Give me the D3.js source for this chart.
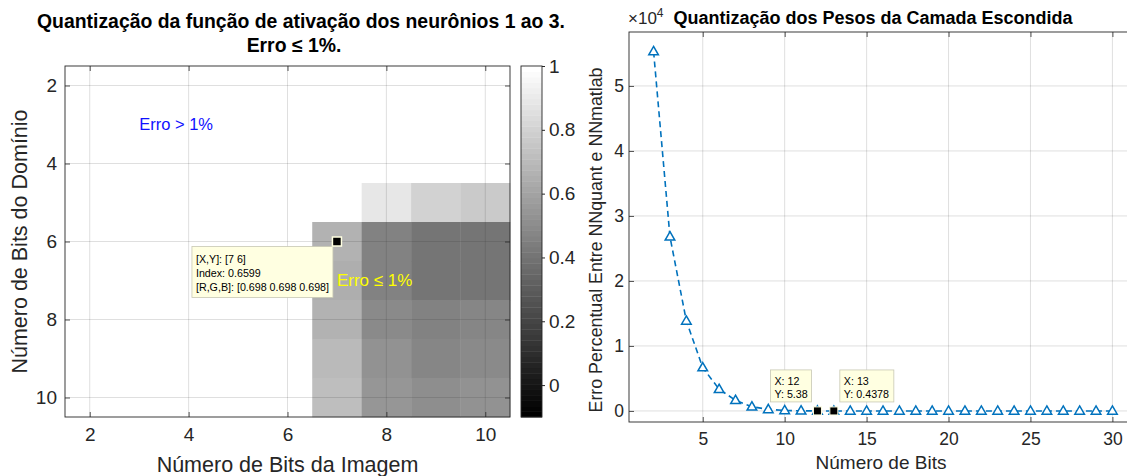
<!DOCTYPE html>
<html>
<head>
<meta charset="utf-8">
<script src="https://cdn.jsdelivr.net/npm/d3@7"></script>
<style>
  html, body { margin: 0; padding: 0; background: #fff; }
  svg { display: block; font-family: "Liberation Sans", Arial, sans-serif; }
</style>
</head>
<body>
<svg id="fig" width="1127" height="476"></svg>
<script>
// ---- Left panel: quantization map (image bits x domain bits) ----
const imageBits = [2, 3, 4, 5, 6, 7, 8, 9, 10];
const domainBits = [2, 3, 4, 5, 6, 7, 8, 9, 10];
// one row per domain bit count, one column per image bit count
const errorIndex = [
  [1, 1, 1, 1, 1, 1,      1,    1,    1   ],
  [1, 1, 1, 1, 1, 1,      1,    1,    1   ],
  [1, 1, 1, 1, 1, 1,      1,    1,    1   ],
  [1, 1, 1, 1, 1, 1,      0.88, 0.81, 0.77],
  [1, 1, 1, 1, 1, 0.6599, 0.46, 0.40, 0.41],
  [1, 1, 1, 1, 1, 0.64,   0.46, 0.40, 0.41],
  [1, 1, 1, 1, 1, 0.67,   0.50, 0.46, 0.47],
  [1, 1, 1, 1, 1, 0.70,   0.52, 0.48, 0.49],
  [1, 1, 1, 1, 1, 0.72,   0.55, 0.51, 0.52]
];
const heatTicks = [2, 4, 6, 8, 10];
const colorLimits = [-0.1, 1];
const colorbarTicks = [0, 0.2, 0.4, 0.6, 0.8, 1];
const heatTip = { x: 7, y: 6, index: 0.6599 };

// ---- Right panel: weight quantization error ----
const weightBits = [2, 3, 4, 5, 6, 7, 8, 9, 10, 11, 12, 13, 14, 15, 16, 17, 18, 19, 20,
                    21, 22, 23, 24, 25, 26, 27, 28, 29, 30];
const percentError = [55300, 26800, 13850, 6670, 3340, 1640, 650, 240, 80, 25, 5.38, 0.4378,
                      0.41, 0.39, 0.37, 0.36, 0.35, 0.34, 0.34, 0.33, 0.33, 0.32, 0.32,
                      0.32, 0.31, 0.31, 0.31, 0.31, 0.30];
const weightXTicks = [5, 10, 15, 20, 25, 30];
const weightYTicks = [0, 10000, 20000, 30000, 40000, 50000];
const weightTips = [12, 13];

const svg = d3.select("#fig");
const AX = "#262626";
const GRID = "#262626";
const FONT = "Liberation Sans, Arial, sans-serif";

// MATLAB-style gray colormap with 64 levels
function grayOf(v) {
  const t = (v - colorLimits[0]) / (colorLimits[1] - colorLimits[0]);
  const idx = Math.max(0, Math.min(63, Math.floor(t * 64)));
  const g = Math.round(idx / 63 * 255);
  return `rgb(${g},${g},${g})`;
}

// axes with inward ticks on all four sides
function boxAxes(g, xs, ys, box, xt, yt, tickLen, fmtX, fmtY, fs, xOff, yOff) {
  g.append("g").attr("transform", `translate(0,${box.bottom})`)
    .call(d3.axisBottom(xs).tickValues(xt).tickSize(-tickLen).tickPadding(xOff).tickFormat(fmtX))
    .call(a => a.select(".domain").remove());
  g.append("g").attr("transform", `translate(0,${box.top})`)
    .call(d3.axisTop(xs).tickValues(xt).tickSize(-tickLen).tickFormat(""))
    .call(a => a.select(".domain").remove());
  g.append("g").attr("transform", `translate(${box.left},0)`)
    .call(d3.axisLeft(ys).tickValues(yt).tickSize(-tickLen).tickPadding(yOff).tickFormat(fmtY))
    .call(a => a.select(".domain").remove());
  g.append("g").attr("transform", `translate(${box.right},0)`)
    .call(d3.axisRight(ys).tickValues(yt).tickSize(-tickLen).tickFormat(""))
    .call(a => a.select(".domain").remove());
  g.selectAll(".tick line").attr("stroke", AX).attr("stroke-width", 0.8);
  g.selectAll(".tick text").attr("fill", AX).attr("font-size", fs).attr("font-family", FONT);
  g.append("rect").attr("x", box.left).attr("y", box.top)
    .attr("width", box.right - box.left).attr("height", box.bottom - box.top)
    .attr("fill", "none").attr("stroke", AX).attr("stroke-width", 0.9);
}

// ================= Left panel =================
const L = { left: 65, right: 510, top: 66, bottom: 417 };
const hx = d3.scaleLinear().domain([1.5, 10.5]).range([L.left, L.right]);
const hy = d3.scaleLinear().domain([1.5, 10.5]).range([L.top, L.bottom]);
const hp = svg.append("g");

const cells = [];
domainBits.forEach((d, i) => imageBits.forEach((b, j) => cells.push({ x: b, y: d, v: errorIndex[i][j] })));
hp.selectAll("rect.cell").data(cells).join("rect")
  .attr("class", "cell")
  .attr("x", d => hx(d.x - 0.5))
  .attr("y", d => hy(d.y - 0.5))
  .attr("width", d => hx(d.x + 0.5) - hx(d.x - 0.5) + 0.3)
  .attr("height", d => hy(d.y + 0.5) - hy(d.y - 0.5) + 0.3)
  .attr("fill", d => grayOf(d.v));

// grid on top of image
hp.selectAll("line.gx").data(heatTicks).join("line")
  .attr("x1", d => hx(d)).attr("x2", d => hx(d))
  .attr("y1", L.top).attr("y2", L.bottom)
  .attr("stroke", GRID).attr("stroke-opacity", 0.15).attr("stroke-width", 1);
hp.selectAll("line.gy").data(heatTicks).join("line")
  .attr("y1", d => hy(d)).attr("y2", d => hy(d))
  .attr("x1", L.left).attr("x2", L.right)
  .attr("stroke", GRID).attr("stroke-opacity", 0.15).attr("stroke-width", 1);

boxAxes(hp, hx, hy, L, heatTicks, heatTicks, 5, d3.format("d"), d3.format("d"), 19, 11, 8);

// annotations
hp.append("text").attr("x", hx(3)).attr("y", hy(3)).attr("dy", "0.35em")
  .attr("fill", "#1010ff").attr("font-size", 16.5).text("Erro > 1%");
hp.append("text").attr("x", hx(7)).attr("y", hy(7)).attr("dy", "0.35em")
  .attr("fill", "#ffff00").attr("font-size", 17).text("Erro ≤ 1%");

// data tip on the image
{
  const px = hx(heatTip.x), py = hy(heatTip.y);
  const g = hp.append("g");
  g.append("rect").attr("x", px - 145).attr("y", py + 5).attr("width", 141).attr("height", 51)
    .attr("fill", "#ffffe1").attr("stroke", "#c8c8b4").attr("stroke-width", 0.8);
  const lines = [`[X,Y]: [${heatTip.x} ${heatTip.y}]`, `Index: ${heatTip.index}`,
                 `[R,G,B]: [0.698 0.698 0.698]`];
  g.selectAll("text").data(lines).join("text")
    .attr("x", px - 141).attr("y", (d, i) => py + 21 + i * 14)
    .attr("font-size", 10.7).attr("fill", "#000").text(d => d);
  g.append("rect").attr("x", px - 4.5).attr("y", py - 4.5).attr("width", 9).attr("height", 9)
    .attr("fill", "#000").attr("stroke", "#ffffe1").attr("stroke-width", 1.5);
}

// colorbar
{
  const cb = { left: 521, right: 542, top: L.top, bottom: L.bottom };
  const cy = d3.scaleLinear().domain(colorLimits).range([cb.bottom, cb.top]);
  const steps = d3.range(64);
  const dv = (colorLimits[1] - colorLimits[0]) / 64;
  svg.append("g").selectAll("rect").data(steps).join("rect")
    .attr("x", cb.left).attr("width", cb.right - cb.left)
    .attr("y", i => cy(colorLimits[0] + (i + 1) * dv))
    .attr("height", i => cy(colorLimits[0] + i * dv) - cy(colorLimits[0] + (i + 1) * dv) + 0.4)
    .attr("fill", i => { const g = Math.round(i / 63 * 255); return `rgb(${g},${g},${g})`; });
  const ag = svg.append("g").attr("transform", `translate(${cb.right},0)`)
    .call(d3.axisRight(cy).tickValues(colorbarTicks).tickSize(3).tickPadding(4).tickFormat(d3.format("~g")));
  ag.select(".domain").remove();
  ag.selectAll(".tick line").attr("stroke", AX);
  ag.selectAll(".tick text").attr("fill", AX).attr("font-size", 19).attr("font-family", FONT);
  svg.append("rect").attr("x", cb.left).attr("y", cb.top)
    .attr("width", cb.right - cb.left).attr("height", cb.bottom - cb.top)
    .attr("fill", "none").attr("stroke", AX).attr("stroke-width", 0.9);
}

// titles and labels
svg.append("text").attr("x", 301).attr("y", 28).attr("text-anchor", "middle")
  .attr("font-weight", "bold").attr("font-size", 19.4).attr("fill", "#000")
  .text("Quantização da função de ativação dos neurônios 1 ao 3.");
svg.append("text").attr("x", 294).attr("y", 52).attr("text-anchor", "middle")
  .attr("font-weight", "bold").attr("font-size", 19.4).attr("fill", "#000")
  .text("Erro ≤ 1%.");
svg.append("text").attr("x", (L.left + L.right) / 2).attr("y", 472).attr("text-anchor", "middle")
  .attr("font-size", 21.5).attr("fill", AX).text("Número de Bits da Imagem");
svg.append("text").attr("transform", `translate(27,${(L.top + L.bottom) / 2}) rotate(-90)`)
  .attr("text-anchor", "middle").attr("font-size", 21.5).attr("fill", AX)
  .text("Número de Bits do Domínio");

// ================= Right panel =================
const R = { left: 629, right: 1137, top: 32, bottom: 422 };
const wx = d3.scaleLinear().domain([0.5, 31.5]).range([R.left, R.right]);
const wy = d3.scaleLinear().domain([-1700, 58300]).range([R.bottom, R.top]);
const wp = svg.append("g");

wp.selectAll("line.gx").data(weightXTicks).join("line")
  .attr("x1", d => wx(d)).attr("x2", d => wx(d)).attr("y1", R.top).attr("y2", R.bottom)
  .attr("stroke", GRID).attr("stroke-opacity", 0.15);
wp.selectAll("line.gy").data(weightYTicks).join("line")
  .attr("y1", d => wy(d)).attr("y2", d => wy(d)).attr("x1", R.left).attr("x2", R.right)
  .attr("stroke", GRID).attr("stroke-opacity", 0.15);

boxAxes(wp, wx, wy, R, weightXTicks, weightYTicks, 5, d3.format("d"), d => d / 10000, 17.5, 11, 5);

const pts = weightBits.map((b, i) => ({ x: b, y: percentError[i] }));
const blue = "#0072bd";
wp.append("path").datum(pts)
  .attr("d", d3.line().x(d => wx(d.x)).y(d => wy(d.y)))
  .attr("fill", "none").attr("stroke", blue).attr("stroke-width", 1.6)
  .attr("stroke-dasharray", "6,4");
const tri = d3.symbol().type(d3.symbolTriangle).size(40);
wp.selectAll("path.m").data(pts).join("path")
  .attr("class", "m")
  .attr("transform", d => `translate(${wx(d.x)},${wy(d.y) + 0.5})`)
  .attr("d", tri).attr("fill", "#fff").attr("stroke", blue).attr("stroke-width", 1.5);

// data tips on the curve
weightTips.forEach((b, k) => {
  const d = pts.find(p => p.x === b);
  const px = wx(d.x), py = wy(d.y);
  const lines = [`X: ${d.x}`, `Y: ${d.y}`];
  const w = k === 0 ? 41 : 54;
  const bx = k === 0 ? px - 6 - w : px + 6;
  const g = wp.append("g");
  g.append("rect").attr("x", bx).attr("y", py - 41).attr("width", w).attr("height", 32)
    .attr("fill", "#ffffe1").attr("stroke", "#c8c8b4").attr("stroke-width", 0.8);
  g.selectAll("text").data(lines).join("text")
    .attr("x", bx + 4).attr("y", (t, i) => py - 26 + i * 13)
    .attr("font-size", 10.7).attr("fill", "#000").text(t => t);
  g.append("rect").attr("x", px - 4).attr("y", py - 4).attr("width", 8).attr("height", 8)
    .attr("fill", "#000").attr("stroke", "#ffffe1").attr("stroke-width", 1);
});

// exponent, title, labels
{
  const t = svg.append("text").attr("x", R.left - 1).attr("y", 24).attr("font-size", 17).attr("fill", AX);
  t.append("tspan").text("×10");
  t.append("tspan").attr("dy", -7).attr("font-size", 12).text("4");
}
svg.append("text").attr("x", 873).attr("y", 24).attr("text-anchor", "middle")
  .attr("font-weight", "bold").attr("font-size", 18).attr("fill", "#000")
  .text("Quantização dos Pesos da Camada Escondida");
svg.append("text").attr("x", 881).attr("y", 469).attr("text-anchor", "middle")
  .attr("font-size", 19).attr("fill", AX).text("Número de Bits");
svg.append("text").attr("transform", `translate(602,240) rotate(-90)`)
  .attr("text-anchor", "middle").attr("font-size", 17.8).attr("fill", AX)
  .text("Erro Percentual Entre NNquant e NNmatlab");
</script>
</body>
</html>
